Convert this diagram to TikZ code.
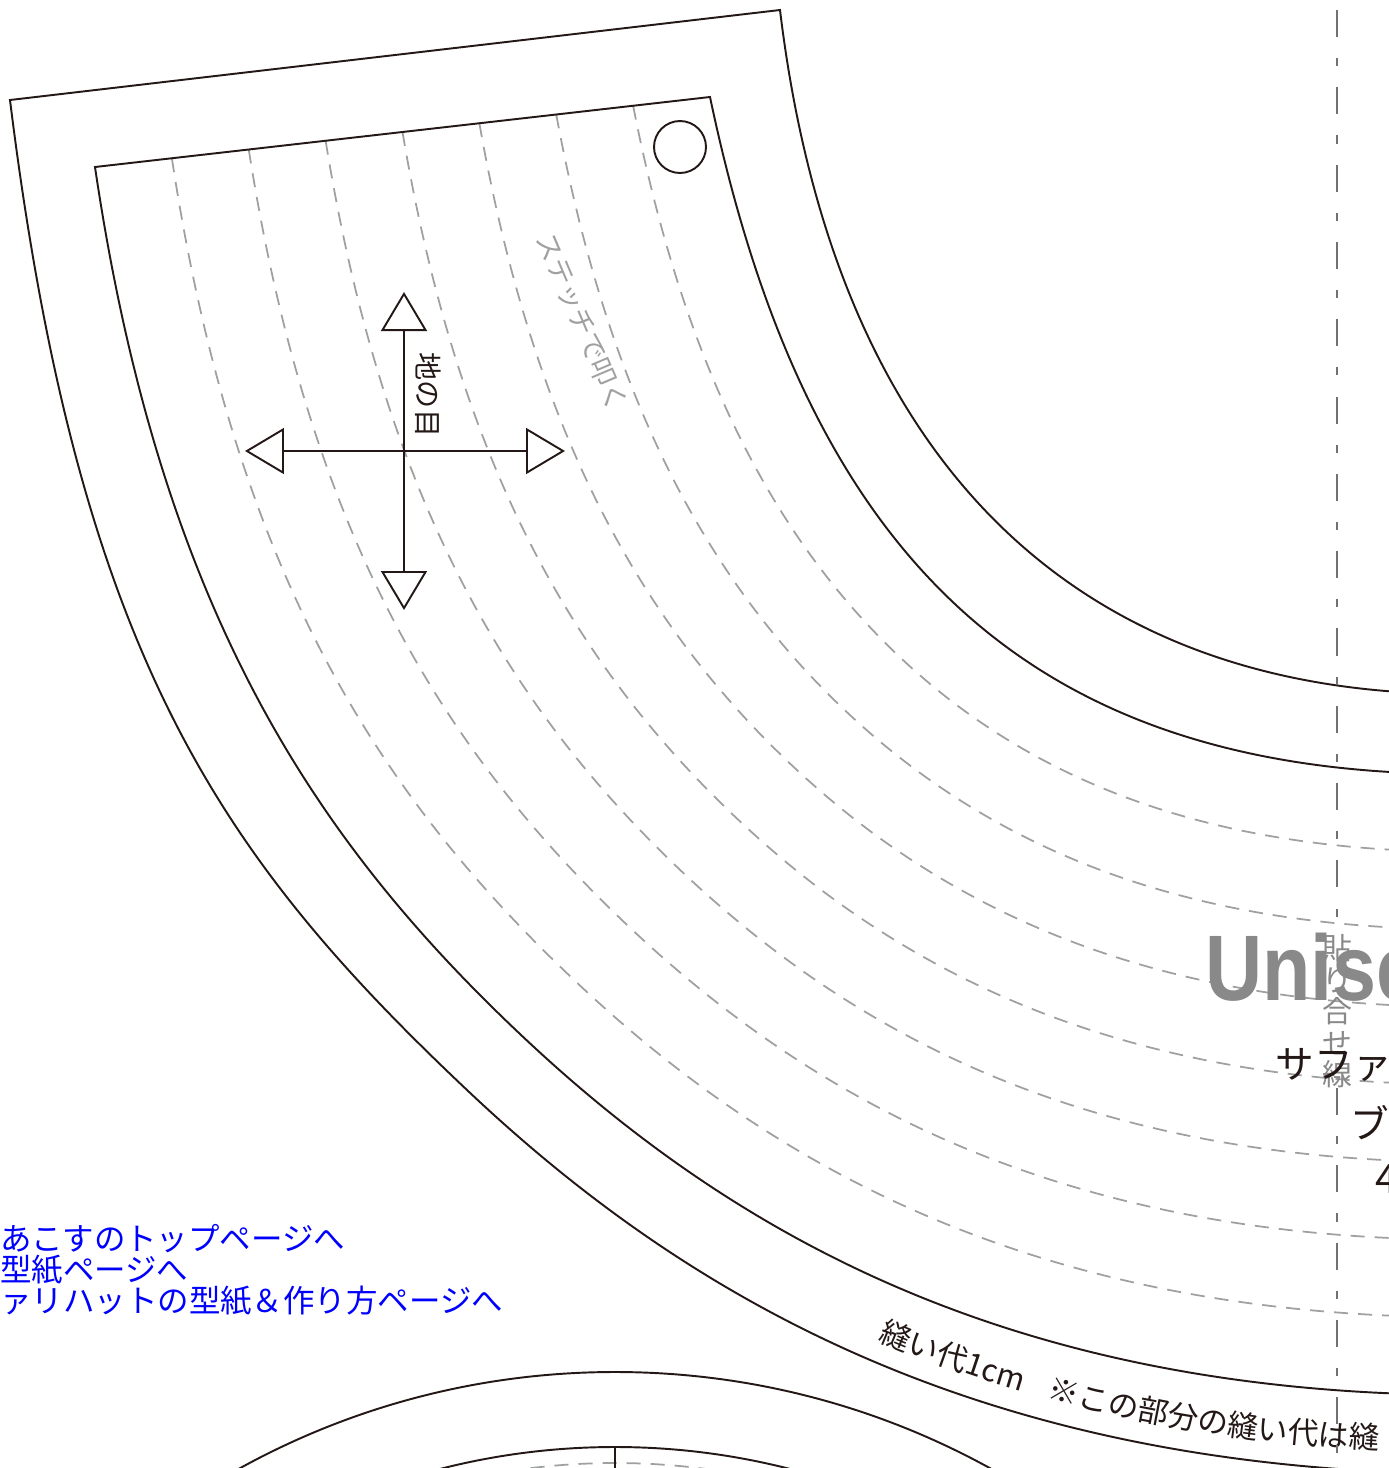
\documentclass[tikz,border=0pt]{standalone}
\usepackage{fontspec}
\newfontfamily\jpfont{Noto Sans CJK JP}
\newfontfamily\titlefont[FakeStretch=0.85]{Liberation Sans}
\newcommand\bandfont{\jpfont\fontsize{17.4}{17.4}\selectfont}
\usetikzlibrary{calc,arrows.meta,decorations.text}
\definecolor{ink}{RGB}{35,24,21}
\definecolor{stitchgray}{RGB}{159,160,160}
\definecolor{joingray}{RGB}{114,113,113}
\definecolor{titlegray}{RGB}{137,137,137}
\definecolor{linkblue}{RGB}{0,0,255}
\begin{document}
\begin{tikzpicture}[x=0.02cm, y=-0.02cm,
   cutline/.style={draw=ink, line width=1.1pt},
   stitchline/.style={draw=stitchgray, line width=1pt, dash pattern=on 8pt off 5.7pt},
   joinline/.style={draw=joingray, line width=1.2pt, dash pattern=on 15.4pt off 12pt on 4.6pt off 12pt},
   grain/.style={draw=ink, line width=1.1pt,
      arrows={Triangle[open,length=0.78cm,width=0.92cm]-Triangle[open,length=0.78cm,width=0.92cm]}},
   hole/.style={circle, draw=ink, line width=1.1pt, minimum size=1.04cm, inner sep=0pt},
   tag/.style={inner sep=0pt, anchor=base west},
   link/.style={tag, text=linkblue, font=\jpfont\fontsize{17.9}{17.9}\selectfont}]

\useasboundingbox (0,0) rectangle (1389,1468);
\clip (0,0) rectangle (1389,1468);

\coordinate (in0) at (710,97);
\coordinate (in1) at (756.75,319.5);
\coordinate (in2) at (833,488.75);
\coordinate (in3) at (953.2,602.4);
\coordinate (in4) at (1073.4,716);
\coordinate (in5) at (1237.5,774);
\coordinate (in6) at (1460,774);
\coordinate (out0) at (95,167);
\coordinate (out1) at (160.7,612);
\coordinate (out2) at (316.5,841.6);
\coordinate (out3) at (520,1034);
\coordinate (out4) at (738,1240.1);
\coordinate (out5) at (1020,1395);
\coordinate (out6) at (1470,1395);

\coordinate (cutA) at (10,100);
\coordinate (cutB) at (780,10);
\coordinate (cin1) at (834,456.9);
\coordinate (cin2) at (1070,694);
\coordinate (cin3) at (1460,694);
\coordinate (cout1) at (78.9,655.5);
\coordinate (cout2) at (219.9,856.4);
\coordinate (cout3) at (467,1090);
\coordinate (cout4) at (699.5,1309.8);
\coordinate (cout5) at (1000,1474);
\coordinate (cout6) at (1480,1474);

\foreach \k in {1,...,7} {
   \pgfmathsetmacro\f{\k/8}
   \draw[stitchline] ($(in0)!\f!(out0)$) .. controls ($(in1)!\f!(out1)$)
      and ($(in2)!\f!(out2)$) .. ($(in3)!\f!(out3)$) .. controls ($(in4)!\f!(out4)$)
      and ($(in5)!\f!(out5)$) .. ($(in6)!\f!(out6)$);
}

\draw[cutline] (out6) .. controls (out5) and (out4) .. (out3) .. controls (out2) and (out1) .. (out0)
   -- (in0) .. controls (in1) and (in2) .. (in3) .. controls (in4) and (in5) .. (in6);
\draw[cutline] (cout6) .. controls (cout5) and (cout4) .. (cout3) .. controls (cout2) and (cout1) .. (cutA)
   -- (cutB) .. controls (cin1) and (cin2) .. (cin3);

\node[hole] (hole) at (680,147) {};

\coordinate (gN) at (404,292);
\coordinate (gS) at (404,610);
\coordinate (gW) at (245,451);
\coordinate (gE) at (565,451);
\draw[grain] (gN) -- (gS);
\draw[grain] (gW) -- (gE);
\node[rotate=-90, inner sep=0pt, text=ink, font=\jpfont\fontsize{16}{16}\selectfont] (grainlabel) at (428,395) {地の目};
\node[rotate=-67, inner sep=0pt, text=stitchgray, font=\jpfont\fontsize{15.5}{15.5}\selectfont] (stitchnote) at (582,322) {ステッチで叩く};

\coordinate (bandA) at (877.7,1340);
\coordinate (bandB) at (1042,1409.9);
\coordinate (bandC) at (1236.7,1451.9);
\coordinate (bandD) at (1477.2,1451.9);
\path[decorate, decoration={text along path,
   text={|\bandfont\color{ink}|縫い代1cm}}]
   (bandA) .. controls (bandB) and (bandC) .. (bandD);
\path[decorate, decoration={text along path, text align={left indent=102pt},
   text={|\bandfont\color{ink}|※この部分の縫い代は縫}}]
   (bandA) .. controls (bandB) and (bandC) .. (bandD);

\coordinate (crown) at (615,2150);
\coordinate (crowntop) at (615,1447);
\coordinate (crownbot) at (615,1470);
\draw[stitchline] (crown) circle[radius=687];
\draw[cutline] (crown) circle[radius=778];
\draw[cutline] (crown) circle[radius=703];
\draw[cutline, line width=0.8pt] (crowntop) -- (crownbot);

\node[tag, text=titlegray, font=\titlefont\bfseries\fontsize{53}{53}\selectfont] (title) at (1205,1000) {Unisex};

\coordinate (jtop) at (1337,10);
\coordinate (jmidA) at (1337,926);
\coordinate (jmidB) at (1337,1088);
\coordinate (jbot) at (1337,1470);
\draw[joinline] (jtop) -- (jmidA);
\draw[joinline] (jmidB) -- (jbot);
\node[anchor=north, align=center, inner sep=0pt, text=titlegray, font=\jpfont\fontsize{17}{18}\selectfont] (joinnote) at (1337,934) {貼\\り\\合\\せ\\線};

\node[tag, text=ink, font=\jpfont\fontsize{22}{22}\selectfont] (hatname) at (1275.5,1078) {サファリハット};
\node[tag, text=ink, font=\jpfont\fontsize{22}{22}\selectfont] (partname) at (1350,1138) {ブリム};
\node[tag, text=ink, font=\jpfont\fontsize{23}{23}\selectfont] (sizeno) at (1375,1193) {4};

\node[link] (toplink) at (0,1250) {あこすのトップページへ};
\node[link] (patternlink) at (0,1281) {型紙ページへ};
\node[link] (hatlink) at (0,1312) {ァリハットの型紙＆作り方ページへ};

\end{tikzpicture}
\end{document}
